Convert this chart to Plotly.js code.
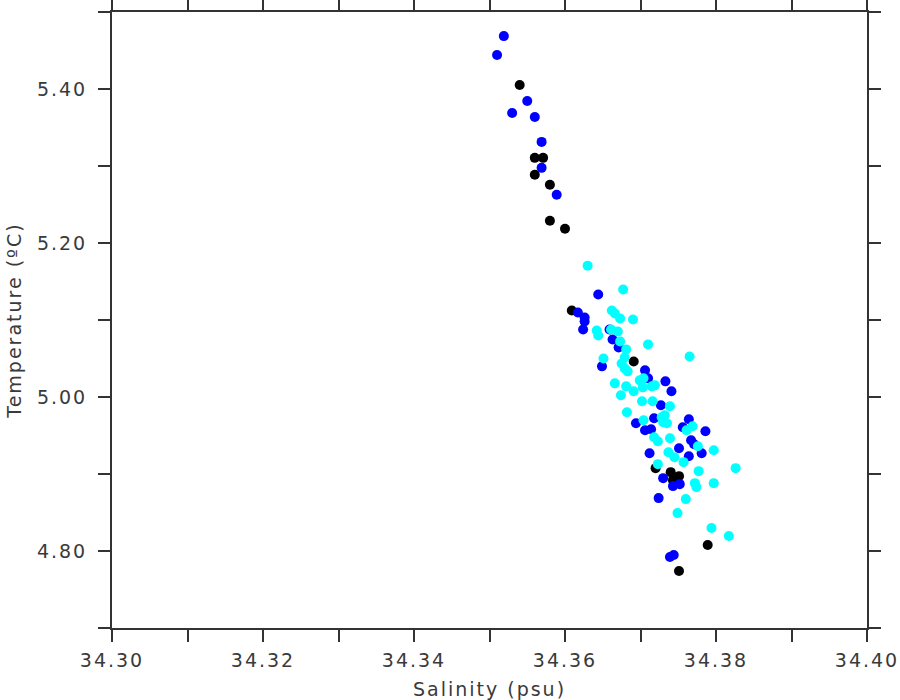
<!DOCTYPE html>
<html>
<head>
<meta charset="utf-8">
<script src="https://cdn.plot.ly/plotly-3.0.1.min.js"></script>
<style>
  html, body { margin: 0; padding: 0; background: #fff; }
  #chart { width: 900px; height: 700px; }
  .main-svg text { letter-spacing: 2px; }
</style>
</head>
<body>
<div id="chart"></div>
<script>
// Salinity (psu) / Temperature (ºC) pairs, grouped by marker colour
const blackSal = [34.3540, 34.3560, 34.3571, 34.3560, 34.3580, 34.3580, 34.3600, 34.3609,
  34.3691, 34.3720, 34.3740, 34.3751, 34.3743, 34.3789, 34.3751];
const blackTemp = [5.4052, 5.3106, 5.3106, 5.2886, 5.2756, 5.2290, 5.2186, 5.1123,
  5.0462, 4.9076, 4.9024, 4.8972, 4.8920, 4.8078, 4.7741];

const blueSal = [34.3519, 34.3510, 34.3550, 34.3530, 34.3560, 34.3569, 34.3569, 34.3589,
  34.3644, 34.3617, 34.3626, 34.3626, 34.3624, 34.3659, 34.3663, 34.3671, 34.3649,
  34.3706, 34.3710, 34.3733, 34.3741, 34.3727, 34.3718, 34.3694, 34.3706, 34.3714,
  34.3764, 34.3756, 34.3786, 34.3767, 34.3771, 34.3751, 34.3781, 34.3712, 34.3764,
  34.3730, 34.3743, 34.3752, 34.3724, 34.3739, 34.3744];
const blueTemp = [5.4687, 5.4441, 5.3844, 5.3689, 5.3637, 5.3313, 5.2976, 5.2626,
  5.1331, 5.1097, 5.1033, 5.0981, 5.0877, 5.0877, 5.0747, 5.0644, 5.0398,
  5.0346, 5.0242, 5.0203, 5.0074, 4.9892, 4.9724, 4.9659, 4.9568, 4.9581,
  4.9711, 4.9607, 4.9555, 4.9439, 4.9387, 4.9335, 4.9270, 4.9270, 4.9231,
  4.8946, 4.8843, 4.8868, 4.8687, 4.7923, 4.7948];

const cyanSal = [34.3630, 34.3677, 34.3662, 34.3666, 34.3673, 34.3690, 34.3642, 34.3644,
  34.3661, 34.3670, 34.3673, 34.3681, 34.3710, 34.3651, 34.3679, 34.3675, 34.3679,
  34.3683, 34.3699, 34.3704, 34.3715, 34.3703, 34.3666, 34.3681, 34.3691, 34.3674,
  34.3702, 34.3716, 34.3682, 34.3704, 34.3728, 34.3718, 34.3723, 34.3765, 34.3719,
  34.3739, 34.3732, 34.3730, 34.3735, 34.3761, 34.3769, 34.3739, 34.3776, 34.3797,
  34.3737, 34.3745, 34.3757, 34.3723, 34.3777, 34.3772, 34.3774, 34.3797, 34.3760,
  34.3749, 34.3794, 34.3817, 34.3826];
const cyanTemp = [5.1706, 5.1395, 5.1123, 5.1084, 5.1020, 5.1007, 5.0864, 5.0799,
  5.0877, 5.0851, 5.0722, 5.0618, 5.0683, 5.0501, 5.0514, 5.0436, 5.0372,
  5.0333, 5.0216, 5.0242, 5.0138, 5.0125, 5.0177, 5.0138, 5.0074, 5.0022,
  4.9944, 4.9944, 4.9801, 4.9698, 4.9737, 4.9478, 4.9426, 5.0527, 5.0151,
  4.9879, 4.9763, 4.9672, 4.9659, 4.9568, 4.9620, 4.9465, 4.9361, 4.9309,
  4.9283, 4.9218, 4.9154, 4.9128, 4.9037, 4.8881, 4.8830, 4.8881, 4.8674,
  4.8493, 4.8298, 4.8195, 4.9076];

const xTickVals = [34.30, 34.31, 34.32, 34.33, 34.34, 34.35, 34.36, 34.37, 34.38, 34.39, 34.40];
const xTickText = ['34.30', '', '34.32', '', '34.34', '', '34.36', '', '34.38', '', '34.40'];
const yTickVals = [4.70, 4.80, 4.90, 5.00, 5.10, 5.20, 5.30, 5.40, 5.50];
const yTickText = ['', '4.80', '', '5.00', '', '5.20', '', '5.40', ''];

const xTitle = 'Salinity (psu)';
const yTitle = 'Temperature (ºC)';

function pts(x, y, color) {
  return {
    type: 'scatter', mode: 'markers', x: x, y: y,
    marker: { color: color, size: 10, line: { width: 0 } },
    hoverinfo: 'x+y', showlegend: false
  };
}

const data = [
  pts(blackSal, blackTemp, '#000000'),
  pts(blueSal, blueTemp, '#0000ff'),
  pts(cyanSal, cyanTemp, '#00ffff')
];

const axisCommon = {
  showgrid: false, zeroline: false,
  showline: true, linecolor: '#333333', linewidth: 2,
  mirror: 'ticks', ticks: 'outside', ticklen: 12, tickwidth: 2, tickcolor: '#333333',
  tickfont: { family: 'DejaVu Sans', size: 19, color: '#3a3a3a' },
  tickmode: 'array'
};

const layout = {
  width: 900, height: 700,
  margin: { l: 112, r: 33, t: 12, b: 72, pad: 0 },
  paper_bgcolor: '#ffffff', plot_bgcolor: '#ffffff',
  font: { family: 'DejaVu Sans', color: '#3a3a3a' },
  xaxis: Object.assign({}, axisCommon, {
    range: [34.30, 34.40], tickvals: xTickVals, ticktext: xTickText,
    ticklabelstandoff: 2,
    title: { text: xTitle, font: { family: 'DejaVu Sans', size: 19, color: '#3a3a3a' }, standoff: 13 }
  }),
  yaxis: Object.assign({}, axisCommon, {
    range: [4.70, 5.50], tickvals: yTickVals, ticktext: yTickText,
    ticklabelstandoff: 7,
    title: { text: yTitle, font: { family: 'DejaVu Sans', size: 19, color: '#3a3a3a' }, standoff: 18 }
  })
};

Plotly.newPlot('chart', data, layout, { displayModeBar: false, staticPlot: true });
</script>
</body>
</html>
